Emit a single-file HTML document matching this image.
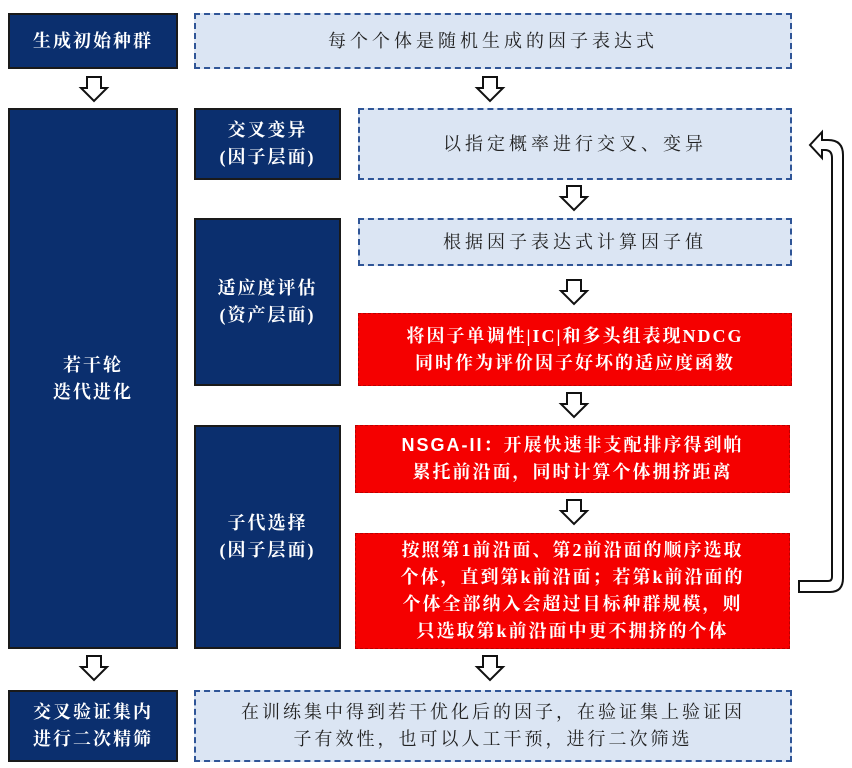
<!DOCTYPE html>
<html><head><meta charset="utf-8"><style>
html,body{margin:0;padding:0;background:#fff;}
body{width:852px;height:768px;position:relative;overflow:hidden;font-family:"Liberation Serif","Noto Serif CJK SC",serif;}
.b{position:absolute;box-sizing:border-box;display:flex;align-items:center;justify-content:center;text-align:center;line-height:1.5;font-size:18px;letter-spacing:2px;}
.n{background:#0b2f6e;border:2px solid #1a1a1a;color:#fff;font-weight:bold;}
.d{background:#dbe5f3;border:2px dashed #2f5597;color:#222;letter-spacing:4px;}
.r{background:#f50000;border:1px dashed #b00;color:#fff;font-weight:bold;}
svg{position:absolute;left:0;top:0;}
</style></head><body>
<div class="b n" style="left:8px;top:13px;width:170px;height:56px;">生成初始种群</div>
<div class="b d" style="left:194px;top:13px;width:598px;height:56px;">每个个体是随机生成的因子表达式</div>
<div class="b n" style="left:8px;top:108px;width:170px;height:541px;">若干轮<br>迭代进化</div>
<div class="b n" style="left:194px;top:108px;width:147px;height:72px;">交叉变异<br>(因子层面)</div>
<div class="b d" style="left:358px;top:108px;width:434px;height:72px;">以指定概率进行交叉、变异</div>
<div class="b n" style="left:194px;top:218px;width:147px;height:168px;">适应度评估<br>(资产层面)</div>
<div class="b d" style="left:358px;top:218px;width:434px;height:48px;">根据因子表达式计算因子值</div>
<div class="b r" style="left:358px;top:313px;width:434px;height:73px;">将因子单调性|IC|和多头组表现NDCG<br>同时作为评价因子好坏的适应度函数</div>
<div class="b n" style="left:194px;top:425px;width:147px;height:224px;">子代选择<br>(因子层面)</div>
<div class="b r" style="left:355px;top:425px;width:435px;height:68px;"><span><span style="font-family:'Liberation Sans',sans-serif">NSGA-II</span>：开展快速非支配排序得到帕<br>累托前沿面，同时计算个体拥挤距离</span></div>
<div class="b r" style="left:355px;top:533px;width:435px;height:116px;">按照第1前沿面、第2前沿面的顺序选取<br>个体，直到第k前沿面；若第k前沿面的<br>个体全部纳入会超过目标种群规模，则<br>只选取第k前沿面中更不拥挤的个体</div>
<div class="b n" style="left:8px;top:690px;width:170px;height:72px;">交叉验证集内<br>进行二次精筛</div>
<div class="b d" style="left:194px;top:690px;width:598px;height:72px;letter-spacing:3px;">在训练集中得到若干优化后的因子，在验证集上验证因<br>子有效性，也可以人工干预，进行二次筛选</div>
<svg width="852" height="768">
<defs><path id="ar" d="M-7,0 H7 V11 H13 L0,24 L-13,11 H-7 Z" fill="#fff" stroke="#111" stroke-width="2"/></defs>
<use href="#ar" x="94" y="77"/>
<use href="#ar" x="490" y="77"/>
<use href="#ar" x="574" y="186"/>
<use href="#ar" x="574" y="280"/>
<use href="#ar" x="574" y="393"/>
<use href="#ar" x="574" y="500"/>
<use href="#ar" x="94" y="656"/>
<use href="#ar" x="490" y="656"/>
<path d="M799,581 H828 Q832,581 832,577 V158 Q832,150 825,150 H822 V158 L810,145 L822,132 V140 H828 Q843,140 843,155 V578 Q843,592 830,592 H799 Z" fill="#fff" stroke="#111" stroke-width="2"/>
</svg>
</body></html>
